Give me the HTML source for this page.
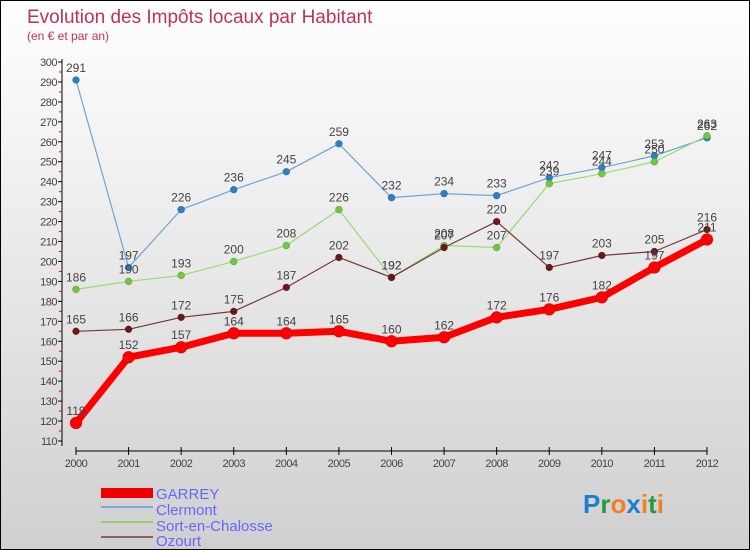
<!DOCTYPE html>
<html><head><meta charset="utf-8"><style>
body{margin:0}
#c{position:relative;width:748px;height:548px;border:1px solid #000;background:linear-gradient(#fff,#d0d0d0);font-family:"Liberation Sans",sans-serif;overflow:hidden}
</style></head><body>
<div id="c">
<svg id="s" width="748" height="548" style="position:absolute;left:0;top:0">
<text x="26" y="22" font-size="19" fill="#c0305a">Evolution des Impôts locaux par Habitant</text>
<text x="26" y="39" font-size="12" fill="#c0305a">(en € et par an)</text>
<g id="axes"></g><g id="series"></g>
<g>
<rect x="100" y="487" width="52" height="10" fill="#e00"/>
<text x="155" y="498" font-size="15" fill="#6666ff">GARREY</text>
<rect x="100" y="505" width="52" height="2" fill="#80a8d0"/>
<text x="155" y="514" font-size="15" fill="#6666ff">Clermont</text>
<rect x="100" y="520" width="52" height="2" fill="#90d070"/>
<text x="155" y="530" font-size="15" fill="#6666ff">Sort-en-Chalosse</text>
<rect x="100" y="535" width="52" height="2" fill="#906060"/>
<text x="155" y="545" font-size="15" fill="#6666ff">Ozourt</text>
</g>
<text x="582" y="512" font-size="26" font-weight="bold"><tspan fill="#1a7fd0">P</tspan><tspan fill="#2a9a3a">r</tspan><tspan fill="#f08020">o</tspan><tspan fill="#1a7fd0">x</tspan><tspan fill="#f08020">i</tspan><tspan fill="#2a9a3a">t</tspan><tspan fill="#f08020">i</tspan></text>
</svg>
</div>
<script>
const years=[2000,2001,2002,2003,2004,2005,2006,2007,2008,2009,2010,2011,2012];
const garrey=[119,152,157,164,164,165,160,162,172,176,182,197,211];
const clermont=[291,197,226,236,245,259,232,234,233,242,247,253,262];
const sortEnChalosse=[186,190,193,200,208,226,192,208,207,239,244,250,263];
const ozourt=[165,166,172,175,187,202,192,207,220,197,203,205,216];
const yTicks=[110,120,130,140,150,160,170,180,190,200,210,220,230,240,250,260,270,280,290,300];
const NS='http://www.w3.org/2000/svg';
const x=i=>75+i*(706-75)/(years.length-1);
const y=v=>440-(v-110)*(440-61)/190;
function el(t,a,p){const e=document.createElementNS(NS,t);for(const k in a)e.setAttribute(k,a[k]);p.appendChild(e);return e;}
const ax=document.getElementById('axes');
let yl=el('line',{x1:61,y1:58,x2:61,y2:445,stroke:'#000'},ax);


let xl=el('line',{x1:75,y1:450,x2:706,y2:450,stroke:'#000'},ax);


yTicks.forEach(v=>{
  el('line',{x1:57,y1:y(v),x2:61,y2:y(v),stroke:'#000'},ax);
  if(v<300) el('line',{x1:58,y1:y(v+5),x2:61,y2:y(v+5),stroke:'#e00'},ax);
  const t=el('text',{x:56,y:y(v)+4,'font-size':11,fill:'#444','text-anchor':'end','letter-spacing':'-0.5'},ax);
  t.textContent=v;
  
  
});
years.forEach((yr,i)=>{
  el('line',{x1:x(i),y1:446,x2:x(i),y2:454,stroke:'#000'},ax);
  const t=el('text',{x:x(i),y:466,'font-size':11,fill:'#444','text-anchor':'middle','letter-spacing':'-0.5'},ax);
  t.textContent=yr;
  
  
});
const sg=document.getElementById('series');
function draw(data,name,col,pcol,w,r){
  const g=el('g',{},sg);
  
  
  const ln=el('polyline',{points:data.map((v,i)=>x(i)+','+y(v)).join(' '),fill:'none',stroke:col,'stroke-width':w,'stroke-linejoin':'round'},g);
  
  
  data.forEach((v,i)=>{
    const c=el('circle',{cx:x(i),cy:y(v),r:r,fill:pcol,stroke:'rgba(0,0,0,0.3)','stroke-width':0.5},g);
    
    
    const t=el('text',{x:x(i),y:y(v)-8,'font-size':12,fill:'#444','text-anchor':'middle'},g);
    t.textContent=v;
    
    
  });
}
draw(clermont,'clermont','#6aa6d8','#2a80c8',1.2,3.5);
draw(sortEnChalosse,'sort-en-chalosse','#98dc70','#70c840',1.2,3.5);
draw(ozourt,'ozourt','#7a3838','#6a1818',1.2,3.5);
draw(garrey,'garrey','#f00','#f00',7,6);
</script>
</body></html>
